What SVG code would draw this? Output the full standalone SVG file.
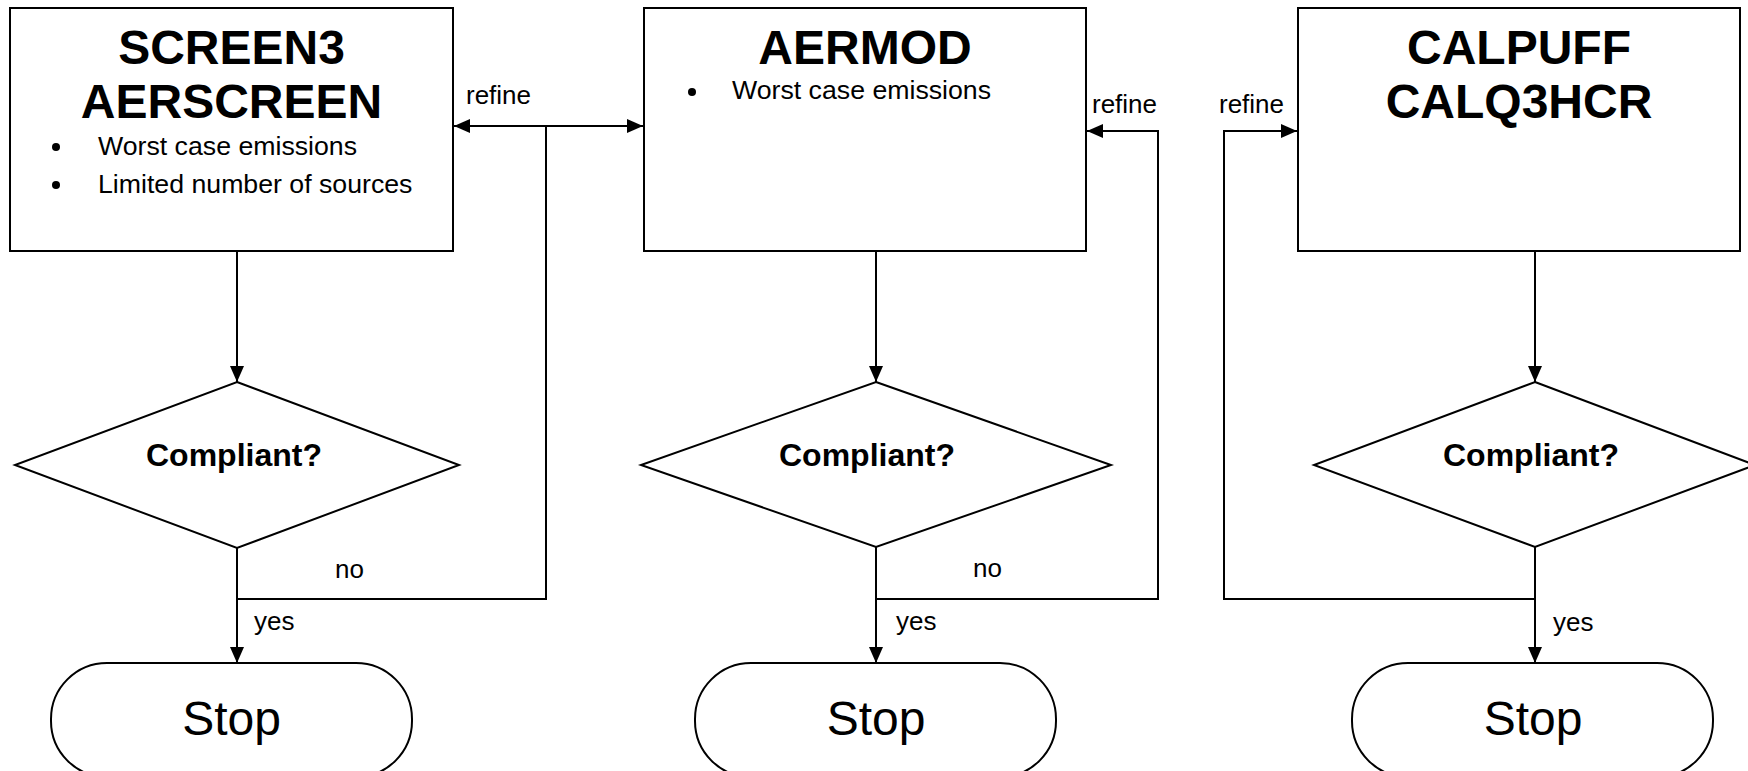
<svg xmlns="http://www.w3.org/2000/svg" width="1748" height="771" viewBox="0 0 1748 771">
<style>
.box{fill:#fff;stroke:#000;stroke-width:2}
.ln{fill:none;stroke:#000;stroke-width:2}
.h{font-family:"Liberation Sans",Arial,sans-serif;font-weight:bold;font-size:48px;text-anchor:middle;fill:#000}
.q{font-family:"Liberation Sans",Arial,sans-serif;font-weight:bold;font-size:32px;text-anchor:middle;fill:#000}
.t{font-family:"Liberation Sans",Arial,sans-serif;font-size:26px;fill:#000}
.b{font-family:"Liberation Sans",Arial,sans-serif;font-size:26.7px;fill:#000}
.s{font-family:"Liberation Sans",Arial,sans-serif;font-size:48px;text-anchor:middle;fill:#000}
</style>
<defs>
<marker id="ah" markerUnits="userSpaceOnUse" markerWidth="17" markerHeight="17" viewBox="0 0 17 17" refX="16" refY="8.5" orient="auto-start-reverse">
<path d="M0,1.5 L16,8.5 L0,15.5 Z" fill="#000"/>
</marker>
</defs>
<rect width="1748" height="771" fill="#fff"/>

<g id="connectors">
<line class="ln" x1="237" y1="251" x2="237" y2="382" marker-end="url(#ah)"/>
<line class="ln" x1="237" y1="548" x2="237" y2="663" marker-end="url(#ah)"/>
<polyline class="ln" points="237,599 546,599 546,126"/>
<line class="ln" x1="454" y1="126" x2="643" y2="126" marker-start="url(#ah)" marker-end="url(#ah)"/>

<line class="ln" x1="876" y1="251" x2="876" y2="382" marker-end="url(#ah)"/>
<line class="ln" x1="876" y1="547" x2="876" y2="663" marker-end="url(#ah)"/>
<polyline class="ln" points="876,599 1158,599 1158,131 1087,131" marker-end="url(#ah)"/>

<line class="ln" x1="1535" y1="251" x2="1535" y2="382" marker-end="url(#ah)"/>
<line class="ln" x1="1535" y1="547" x2="1535" y2="663" marker-end="url(#ah)"/>
<polyline class="ln" points="1535,599 1224,599 1224,131 1297,131" marker-end="url(#ah)"/>

<text class="t" x="466" y="104">refine</text>
<text class="t" x="1092" y="113">refine</text>
<text class="t" x="1219" y="113">refine</text>
<text class="t" x="335" y="578">no</text>
<text class="t" x="973" y="577">no</text>
<text class="t" x="254" y="630">yes</text>
<text class="t" x="896" y="630">yes</text>
<text class="t" x="1553" y="631">yes</text>
</g>

<g id="screen3">
<rect class="box" x="10" y="8" width="443" height="243"/>
<text class="h" x="231.5" y="64">SCREEN3</text>
<text class="h" x="231.5" y="118">AERSCREEN</text>
<circle cx="56" cy="147" r="4" fill="#000"/>
<text class="b" x="98" y="155">Worst case emissions</text>
<circle cx="56" cy="185" r="4" fill="#000"/>
<text class="b" x="98" y="193">Limited number of sources</text>
</g>

<g id="aermod">
<rect class="box" x="644" y="8" width="442" height="243"/>
<text class="h" x="865" y="64">AERMOD</text>
<circle cx="692" cy="92" r="4" fill="#000"/>
<text class="b" x="732" y="99">Worst case emissions</text>
</g>

<g id="calpuff">
<rect class="box" x="1298" y="8" width="442" height="243"/>
<text class="h" x="1519" y="64">CALPUFF</text>
<text class="h" x="1519" y="118">CALQ3HCR</text>
</g>

<g id="decision1">
<polygon class="box" points="237,382 459,465 237,548 15,465"/>
<text class="q" x="234" y="466">Compliant?</text>
</g>
<g id="decision2">
<polygon class="box" points="876,382 1111,465 876,547 641,465"/>
<text class="q" x="867" y="466">Compliant?</text>
</g>
<g id="decision3">
<polygon class="box" points="1535,382 1755,465 1535,547 1314,465"/>
<text class="q" x="1531" y="466">Compliant?</text>
</g>

<g id="stop1">
<rect class="box" x="51" y="663" width="361" height="114" rx="56" ry="56"/>
<text class="s" x="231.5" y="735">Stop</text>
</g>
<g id="stop2">
<rect class="box" x="695" y="663" width="361" height="114" rx="56" ry="56"/>
<text class="s" x="876" y="735">Stop</text>
</g>
<g id="stop3">
<rect class="box" x="1352" y="663" width="361" height="114" rx="56" ry="56"/>
<text class="s" x="1533" y="735">Stop</text>
</g>
</svg>
